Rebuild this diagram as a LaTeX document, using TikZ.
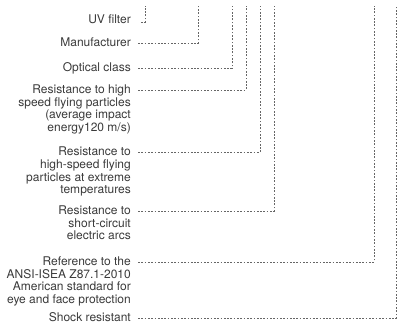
\documentclass[tikz,border=0pt]{standalone}
\usepackage{fontspec}
\setmainfont{TeX Gyre Heros}
\usetikzlibrary{calc}
\definecolor{txt}{HTML}{3A3A3A}
\definecolor{ln}{HTML}{666666}
\tikzset{
  lbl/.style={anchor=north east, inner sep=0pt, align=right, text=txt,
    font=\fontsize{12}{12.8}\selectfont},
  conn/.style={draw=ln, line width=0.85pt, dash pattern=on 1.7pt off 1.6pt}
}
\begin{document}
\begin{tikzpicture}[x=1pt,y=-1pt]
\useasboundingbox (0,0) rectangle (397,325);
% labels (top edge ~5.7pt above the connector height)
\node[lbl] (uv)  at (131,14.5) {UV filter};
\node[lbl] (man) at (131,37.3) {Manufacturer};
\node[lbl] (opt) at (131,62.3) {Optical class};
\node[lbl] (rh)  at (131,84.3) {Resistance to high\\speed flying particles\\(average impact\\energy120 m/s)};
\node[lbl] (rhs) at (131,146.5) {Resistance to\\high-speed flying\\particles at extreme\\temperatures};
\node[lbl] (rsc) at (131,205.3) {Resistance to\\short-circuit\\electric arcs};
\node[lbl] (ref) at (131,256.3) {Reference to the\\ANSI-ISEA Z87.1-2010\\American standard for\\eye and face protection};
\node[lbl] (sh)  at (131,312.3) {Shock resistant};
% top ends
\coordinate (t1) at (145,6);
\coordinate (t2) at (198,6);
\coordinate (t3) at (232,6);
\coordinate (t4) at (246,6);
\coordinate (t5) at (260,6);
\coordinate (t6) at (274,6);
\coordinate (t7) at (374,6);
\coordinate (t8) at (396,6);
% connectors
\draw[conn] ($(uv.north east)+(10,7.5)$) -| (t1);
\draw[conn] ($(man.north east)+(7,5.7)$) -| (t2);
\draw[conn] ($(opt.north east)+(7,5.7)$) -| (t3);
\draw[conn] ($(rh.north east)+(7,5.7)$) -| (t4);
\draw[conn] ($(rhs.north east)+(7,5.7)$) -| (t5);
\draw[conn] ($(rsc.north east)+(7,5.7)$) -| (t6);
\draw[conn] ($(ref.north east)+(7,5.7)$) -| (t7);
\draw[conn] ($(sh.north east)+(7,5.7)$) -| (t8);
\end{tikzpicture}
\end{document}
